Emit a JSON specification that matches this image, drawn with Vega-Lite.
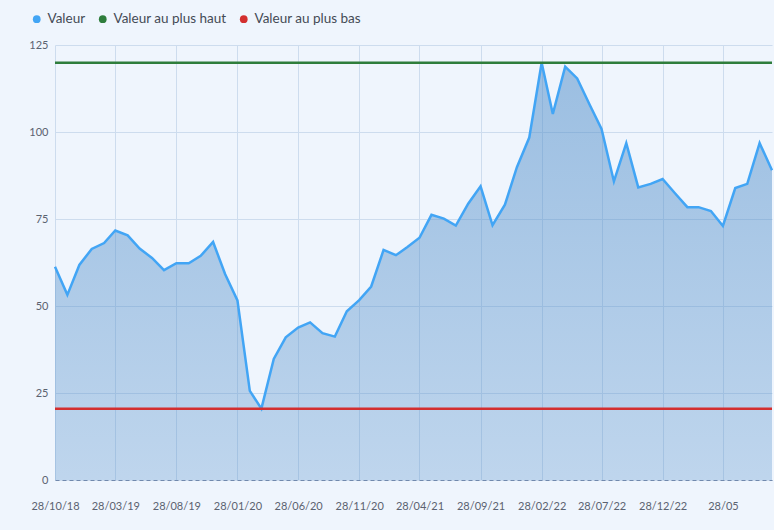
{
  "$schema": "https://vega.github.io/schema/vega-lite/v6.json",
  "autosize": "none",
  "width": 717,
  "height": 435,
  "padding": {"left": 55, "top": 45, "right": 2, "bottom": 50},
  "background": "#eff5fd",
  "config": {
    "view": {"stroke": null},
    "font": "Lato"
  },
  "datasets": {
    "serie": [
      {"date": "2018-10-28", "valeur": 61.3, "serie": "Valeur"},
      {"date": "2018-11-28", "valeur": 53.2, "serie": "Valeur"},
      {"date": "2018-12-28", "valeur": 61.8, "serie": "Valeur"},
      {"date": "2019-01-28", "valeur": 66.4, "serie": "Valeur"},
      {"date": "2019-02-28", "valeur": 68.1, "serie": "Valeur"},
      {"date": "2019-03-28", "valeur": 71.7, "serie": "Valeur"},
      {"date": "2019-04-28", "valeur": 70.3, "serie": "Valeur"},
      {"date": "2019-05-28", "valeur": 66.5, "serie": "Valeur"},
      {"date": "2019-06-28", "valeur": 63.8, "serie": "Valeur"},
      {"date": "2019-07-28", "valeur": 60.3, "serie": "Valeur"},
      {"date": "2019-08-28", "valeur": 62.3, "serie": "Valeur"},
      {"date": "2019-09-28", "valeur": 62.3, "serie": "Valeur"},
      {"date": "2019-10-28", "valeur": 64.4, "serie": "Valeur"},
      {"date": "2019-11-28", "valeur": 68.4, "serie": "Valeur"},
      {"date": "2019-12-28", "valeur": 59.2, "serie": "Valeur"},
      {"date": "2020-01-28", "valeur": 51.6, "serie": "Valeur"},
      {"date": "2020-02-28", "valeur": 25.6, "serie": "Valeur"},
      {"date": "2020-03-28", "valeur": 20.5, "serie": "Valeur"},
      {"date": "2020-04-28", "valeur": 34.8, "serie": "Valeur"},
      {"date": "2020-05-28", "valeur": 41.0, "serie": "Valeur"},
      {"date": "2020-06-28", "valeur": 43.8, "serie": "Valeur"},
      {"date": "2020-07-28", "valeur": 45.3, "serie": "Valeur"},
      {"date": "2020-08-28", "valeur": 42.2, "serie": "Valeur"},
      {"date": "2020-09-28", "valeur": 41.2, "serie": "Valeur"},
      {"date": "2020-10-28", "valeur": 48.5, "serie": "Valeur"},
      {"date": "2020-11-28", "valeur": 51.7, "serie": "Valeur"},
      {"date": "2020-12-28", "valeur": 55.6, "serie": "Valeur"},
      {"date": "2021-01-28", "valeur": 66.1, "serie": "Valeur"},
      {"date": "2021-02-28", "valeur": 64.6, "serie": "Valeur"},
      {"date": "2021-03-28", "valeur": 66.9, "serie": "Valeur"},
      {"date": "2021-04-28", "valeur": 69.6, "serie": "Valeur"},
      {"date": "2021-05-28", "valeur": 76.2, "serie": "Valeur"},
      {"date": "2021-06-28", "valeur": 75.1, "serie": "Valeur"},
      {"date": "2021-07-28", "valeur": 73.1, "serie": "Valeur"},
      {"date": "2021-08-28", "valeur": 79.4, "serie": "Valeur"},
      {"date": "2021-09-28", "valeur": 84.4, "serie": "Valeur"},
      {"date": "2021-10-28", "valeur": 73.2, "serie": "Valeur"},
      {"date": "2021-11-28", "valeur": 79.1, "serie": "Valeur"},
      {"date": "2021-12-28", "valeur": 89.9, "serie": "Valeur"},
      {"date": "2022-01-28", "valeur": 98.4, "serie": "Valeur"},
      {"date": "2022-02-28", "valeur": 119.9, "serie": "Valeur"},
      {"date": "2022-03-28", "valeur": 105.2, "serie": "Valeur"},
      {"date": "2022-04-28", "valeur": 118.8, "serie": "Valeur"},
      {"date": "2022-05-28", "valeur": 115.4, "serie": "Valeur"},
      {"date": "2022-06-28", "valeur": 107.9, "serie": "Valeur"},
      {"date": "2022-07-28", "valeur": 100.9, "serie": "Valeur"},
      {"date": "2022-08-28", "valeur": 85.8, "serie": "Valeur"},
      {"date": "2022-09-28", "valeur": 96.8, "serie": "Valeur"},
      {"date": "2022-10-28", "valeur": 84.1, "serie": "Valeur"},
      {"date": "2022-11-28", "valeur": 85.1, "serie": "Valeur"},
      {"date": "2022-12-28", "valeur": 86.5, "serie": "Valeur"},
      {"date": "2023-01-28", "valeur": 82.4, "serie": "Valeur"},
      {"date": "2023-02-28", "valeur": 78.4, "serie": "Valeur"},
      {"date": "2023-03-28", "valeur": 78.4, "serie": "Valeur"},
      {"date": "2023-04-28", "valeur": 77.3, "serie": "Valeur"},
      {"date": "2023-05-28", "valeur": 73.0, "serie": "Valeur"},
      {"date": "2023-06-28", "valeur": 83.9, "serie": "Valeur"},
      {"date": "2023-07-28", "valeur": 85.1, "serie": "Valeur"},
      {"date": "2023-08-28", "valeur": 96.8, "serie": "Valeur"},
      {"date": "2023-09-28", "valeur": 89.0, "serie": "Valeur"}
    ],
    "limites": [
      {"serie": "Valeur au plus haut", "valeur": 119.9},
      {"serie": "Valeur au plus bas", "valeur": 20.5}
    ]
  },
  "layer": [
    {
      "data": {"name": "serie"},
      "mark": {
        "type": "area",
        "fill": {
          "gradient": "linear",
          "x1": 0, "y1": 0, "x2": 0, "y2": 1,
          "stops": [
            {"offset": 0, "color": "rgba(78,140,200,0.52)"},
            {"offset": 1, "color": "rgba(78,140,200,0.30)"}
          ]
        }
      },
      "encoding": {
        "x": {
          "field": "date",
          "type": "temporal",
          "scale": {"type": "utc"},
          "axis": {
            "title": null,
            "grid": true,
            "gridColor": "#cddcee",
            "gridWidth": 1,
            "ticks": false,
            "domain": true,
            "domainColor": "#7189ad",
            "domainDash": [4, 3],
            "domainWidth": 1,
            "labelPadding": 20,
            "labelFontSize": 11,
            "labelColor": "#5b6270",
            "labelOverlap": false,
            "labelFlush": false,
            "labelBound": false,
            "values": [
              {"year": 2018, "month": 10, "date": 28, "utc": true},
              {"year": 2019, "month": 3, "date": 28, "utc": true},
              {"year": 2019, "month": 8, "date": 28, "utc": true},
              {"year": 2020, "month": 1, "date": 28, "utc": true},
              {"year": 2020, "month": 6, "date": 28, "utc": true},
              {"year": 2020, "month": 11, "date": 28, "utc": true},
              {"year": 2021, "month": 4, "date": 28, "utc": true},
              {"year": 2021, "month": 9, "date": 28, "utc": true},
              {"year": 2022, "month": 2, "date": 28, "utc": true},
              {"year": 2022, "month": 7, "date": 28, "utc": true},
              {"year": 2022, "month": 12, "date": 28, "utc": true},
              {"year": 2023, "month": 5, "date": 28, "utc": true}
            ],
            "labelExpr": "utcyear(datum.value) == 2023 ? utcFormat(datum.value, '%d/%m') : utcFormat(datum.value, '%d/%m/%y')"
          }
        },
        "y": {
          "field": "valeur",
          "type": "quantitative",
          "scale": {"domain": [0, 125], "nice": false},
          "axis": {
            "title": null,
            "values": [0, 25, 50, 75, 100, 125],
            "grid": true,
            "gridColor": "#cddcee",
            "gridWidth": 1,
            "ticks": false,
            "domain": false,
            "labelPadding": 7,
            "labelFontSize": 11,
            "labelColor": "#5b6270"
          }
        }
      }
    },
    {
      "data": {"name": "serie"},
      "mark": {"type": "line", "strokeWidth": 2.5},
      "encoding": {
        "x": {"field": "date", "type": "temporal"},
        "y": {"field": "valeur", "type": "quantitative"},
        "color": {"field": "serie", "type": "nominal"}
      }
    },
    {
      "data": {"name": "limites"},
      "mark": {"type": "rule", "strokeWidth": 2.5},
      "encoding": {
        "y": {"field": "valeur", "type": "quantitative"},
        "color": {
          "field": "serie",
          "type": "nominal",
          "scale": {
            "domain": ["Valeur", "Valeur au plus haut", "Valeur au plus bas"],
            "range": ["#42a5f5", "#2e7d3c", "#d32f2f"]
          },
          "legend": {
            "title": null,
            "orient": "none",
            "direction": "horizontal",
            "legendX": -25,
            "legendY": -33,
            "symbolType": "circle",
            "symbolSize": 60,
            "symbolStrokeWidth": 0,
            "labelFontSize": 13.5,
            "labelColor": "#444a55",
            "columnPadding": 10,
            "symbolOffset": 0,
            "labelOffset": 4,
            "encode": {
              "symbols": {
                "update": {"fill": {"scale": "color", "field": "value"}, "strokeWidth": {"value": 0}, "opacity": {"value": 1}}
              }
            }
          }
        }
      }
    }
  ]
}
